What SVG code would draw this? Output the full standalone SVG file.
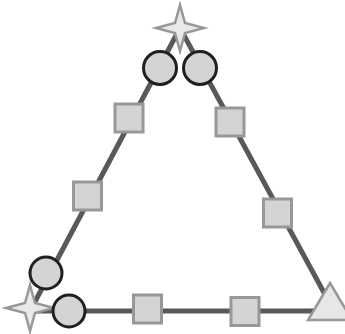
<svg xmlns="http://www.w3.org/2000/svg" width="345" height="334" viewBox="0 0 345 334">
<style>
.edge{stroke:#58595b;stroke-width:5;fill:none;stroke-linecap:butt}
.sq{fill:#d3d4d6;stroke:#97989a;stroke-width:3}
.ci{fill:#d3d4d6;stroke:#231f20;stroke-width:3}
.st{fill:#e8e9eb;stroke:#97989a;stroke-width:2.5;stroke-linejoin:miter}
.tr{fill:#e6e7e9;stroke:#97989a;stroke-width:2.5;stroke-linejoin:miter}
</style>
<defs>
<polygon id="star" points="0,-23 5,-5 24,0 5,5 0,23 -5,5 -24,0 -5,-5"/>
</defs>
<rect width="345" height="334" fill="#ffffff"/>
<g id="connectors">
<line class="edge" x1="180" y1="28" x2="30" y2="311"/>
<line class="edge" x1="30" y1="311" x2="334" y2="311"/>
<line class="edge" x1="334" y1="311" x2="180" y2="28"/>
</g>
<g id="star-top"><use href="#star" class="st" x="180" y="28"/></g>
<g id="star-bl"><use href="#star" class="st" x="30" y="308"/></g>
<g id="circle-tl"><circle class="ci" cx="160" cy="68" r="16.5"/></g>
<g id="circle-tr"><circle class="ci" cx="200" cy="68" r="16.5"/></g>
<g id="circle-l"><circle class="ci" cx="46" cy="273" r="16"/></g>
<g id="circle-b"><circle class="ci" cx="69" cy="311" r="16"/></g>
<g id="square-l1"><rect class="sq" x="115" y="104" width="28" height="28"/></g>
<g id="square-l2"><rect class="sq" x="73.5" y="182" width="28" height="28"/></g>
<g id="square-r1"><rect class="sq" x="216" y="108" width="28" height="28"/></g>
<g id="square-r2"><rect class="sq" x="263.5" y="199" width="28" height="28"/></g>
<g id="square-b1"><rect class="sq" x="133.5" y="295" width="28" height="28"/></g>
<g id="square-b2"><rect class="sq" x="231" y="297.5" width="28" height="28"/></g>
<g id="triangle"><polygon class="tr" points="330,283 352,320 308,320"/></g>
</svg>
